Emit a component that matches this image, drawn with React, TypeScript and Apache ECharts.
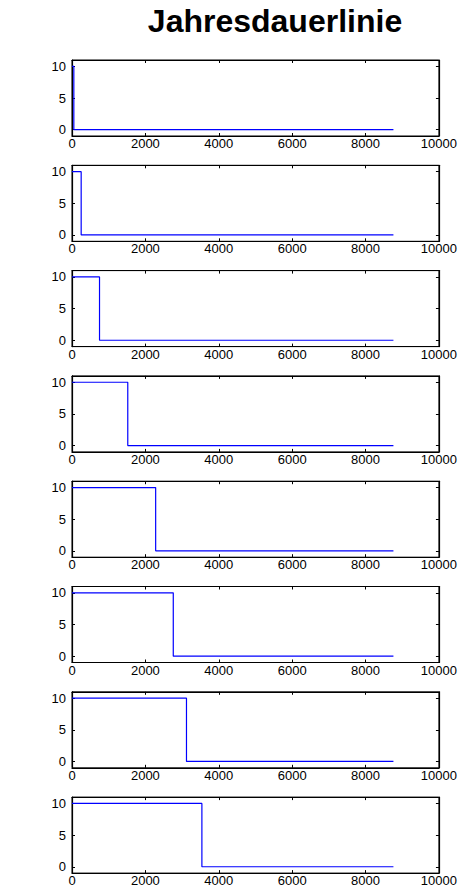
import React, { useEffect, useRef } from "react";
import * as echarts from "echarts";

const titleText = "Jahresdauerlinie";
const stepHours = [50, 250, 750, 1520, 2280, 2760, 3120, 3540];
const peakValue = 10;
const baseValue = 0;
const yearHours = 8760;
const xTicks = [0, 2000, 4000, 6000, 8000, 10000];
const yTicks = [0, 5, 10];

const FONT = "'Liberation Sans', Arial, Helvetica, sans-serif";

export default function App() {
  const ref = useRef<HTMLDivElement>(null);
  useEffect(() => {
    document.body.style.margin = "0";
    const chart = echarts.init(ref.current!, null, { renderer: "svg" });
    const grids: any[] = [];
    const xAxes: any[] = [];
    const yAxes: any[] = [];
    const series: any[] = [];
    const left = 72;
    const width = 370;
    const top0 = 60;
    const step = 105.3;
    const h = 76;
    const fmt = (v: number) => String(v);
    stepHours.forEach((s, i) => {
      grids.push({
        left,
        width,
        top: top0 + step * i,
        height: h,
        show: true,
        borderColor: "#000",
        borderWidth: 1,
        backgroundColor: "#fff",
      });
      const xBase = {
        type: "value",
        gridIndex: i,
        min: xTicks[0],
        max: xTicks[xTicks.length - 1],
        interval: 2000,
        splitLine: { show: false },
        axisLine: { show: true, onZero: false, lineStyle: { color: "#000", width: 1.2 } },
        axisTick: { show: true, inside: true, length: 3, lineStyle: { color: "#000" } },
      };
      xAxes.push({
        ...xBase,
        position: "bottom",
        axisLabel: {
          show: true,
          color: "#000",
          fontSize: 13,
          fontFamily: FONT,
          margin: 1,
          formatter: fmt,
          customValues: xTicks,
        },
      });
      xAxes.push({ ...xBase, position: "top", axisLabel: { show: false } });
      const yBase = {
        type: "value",
        gridIndex: i,
        min: -1,
        max: 11,
        splitLine: { show: false },
        axisLine: { show: true, onZero: false, lineStyle: { color: "#000", width: 1.2 } },
        axisTick: { show: true, inside: true, length: 3, customValues: yTicks, lineStyle: { color: "#000" } },
      };
      yAxes.push({
        ...yBase,
        position: "left",
        axisLabel: {
          show: true,
          color: "#000",
          fontSize: 13,
          fontFamily: FONT,
          margin: 6,
          customValues: yTicks,
          formatter: fmt,
        },
      });
      yAxes.push({ ...yBase, position: "right", axisLabel: { show: false } });
      series.push({
        type: "line",
        xAxisIndex: 2 * i,
        yAxisIndex: 2 * i,
        showSymbol: false,
        symbol: "none",
        lineStyle: { color: "#0000ff", width: 1.2 },
        data: [
          [0, peakValue],
          [s, peakValue],
          [s, baseValue],
          [yearHours, baseValue],
        ],
      });
    });
    chart.setOption({
      animation: false,
      backgroundColor: "#fff",
      grid: grids,
      xAxis: xAxes,
      yAxis: yAxes,
      series,
      graphic: [
        {
          type: "text",
          x: 275,
          y: 21,
          style: {
            text: titleText,
            fontSize: 32,
            fontWeight: "bold",
            fontFamily: FONT,
            fill: "#000",
            align: "center",
            verticalAlign: "middle",
          },
        },
      ],
    });
    return () => chart.dispose();
  }, []);
  return <div ref={ref} style={{ width: 460, height: 890 }} />;
}
